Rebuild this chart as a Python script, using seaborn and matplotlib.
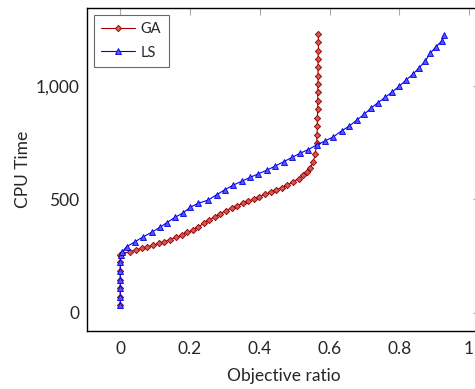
import numpy as np
import pandas as pd
import seaborn as sns
import matplotlib as mpl
from matplotlib import pyplot as plt

# GA: objective ratio vs CPU time
ga_x = [0, 0, 0, 0, 0, 0, 0,
        0.006, 0.028, 0.044, 0.061, 0.077, 0.095, 0.110, 0.126, 0.143, 0.159,
        0.177, 0.191, 0.208, 0.224, 0.239, 0.255, 0.271, 0.287, 0.303, 0.319,
        0.335, 0.351, 0.367, 0.383, 0.399, 0.415, 0.431, 0.447, 0.463, 0.479,
        0.496, 0.512, 0.525, 0.535, 0.545, 0.553, 0.559, 0.563,
        0.564, 0.565, 0.565, 0.566, 0.566, 0.566, 0.567, 0.567, 0.567, 0.567,
        0.568, 0.568, 0.568]
ga_y = [34, 71, 108, 144, 185, 222, 255,
        262, 269, 277, 284, 291, 298, 306, 313, 323, 332,
        342, 354, 364, 379, 394, 408, 422, 437, 450, 462,
        472, 482, 492, 502, 512, 522, 532, 542, 552, 563,
        578, 592, 606, 622, 640, 666, 700, 747,
        785, 822, 860, 897, 934, 972, 1009, 1046, 1083, 1120,
        1157, 1194, 1228]

# LS: objective ratio vs CPU time
ls_x = [0, 0, 0, 0, 0, 0, 0.002,
        0.006, 0.018, 0.042, 0.066, 0.090, 0.114, 0.133, 0.157, 0.181, 0.200,
        0.224, 0.252, 0.276, 0.300, 0.324, 0.348, 0.372, 0.396, 0.420, 0.444,
        0.468, 0.492, 0.515, 0.539, 0.563, 0.587, 0.611, 0.635, 0.657, 0.678,
        0.699, 0.718, 0.738, 0.759, 0.780, 0.800, 0.819, 0.839, 0.857, 0.874,
        0.888, 0.905, 0.922, 0.928]
ls_y = [34, 71, 108, 144, 185, 222, 255,
        270, 291, 313, 335, 355, 377, 397, 421, 441, 465,
        483, 497, 520, 543, 563, 580, 597, 613, 629, 647,
        666, 685, 703, 720, 740, 758, 776, 803, 824, 850,
        875, 902, 926, 950, 975, 1000, 1026, 1053, 1081, 1110,
        1144, 1173, 1200, 1225]

x_ticks = [0, 0.2, 0.4, 0.6, 0.8, 1]
x_tick_labels = ['0', '0.2', '0.4', '0.6', '0.8', '1']
y_ticks = [0, 500, 1000]

sns.set_style('white')
plt.rcParams['font.family'] = ['Lato', 'DejaVu Sans']

fig = plt.figure(figsize=(4.75, 3.89), dpi=100)
ax = fig.add_axes([0.1842, 0.149, 0.8253, 0.830])

sns.lineplot(x=ga_x, y=ga_y, sort=False, estimator=None, ax=ax,
             color='#a50000', lw=0.8, marker='D', markersize=3.2,
             markerfacecolor='#d9534f', markeredgecolor='#8b0000',
             markeredgewidth=0.6, label='GA')
sns.lineplot(x=ls_x, y=ls_y, sort=False, estimator=None, ax=ax,
             color='#0000ff', lw=0.8, marker='^', markersize=4,
             markerfacecolor='#5555ff', markeredgecolor='#0000dd',
             markeredgewidth=0.6, label='LS')

ax.set_xlim(-0.094, 1.03)
ax.set_ylim(-81, 1344)
ax.set_xticks(x_ticks)
ax.set_xticklabels(x_tick_labels)
ax.set_yticks(y_ticks)
ax.yaxis.set_major_formatter(mpl.ticker.StrMethodFormatter('{x:,.0f}'))

ax.tick_params(direction='in', length=5, width=0.8, color='#aaaaaa',
               top=True, right=True, labelsize=12.5)
ax.tick_params(axis='x', pad=7)
ax.tick_params(axis='y', pad=6)
for s in ax.spines.values():
    s.set_color('black')
    s.set_linewidth(1.0)

ax.set_xlabel('Objective ratio', fontsize=12.5, labelpad=8)
ax.set_ylabel('CPU Time', fontsize=12.5, labelpad=3)

leg = ax.legend(loc='upper left', fontsize=10.5, frameon=True, fancybox=False,
                edgecolor='#444444', borderpad=0.5, handlelength=2.3,
                handletextpad=0.4, labelspacing=0.65, borderaxespad=0.45)
leg.get_frame().set_linewidth(0.8)

fig.savefig('out.png', dpi=100)
